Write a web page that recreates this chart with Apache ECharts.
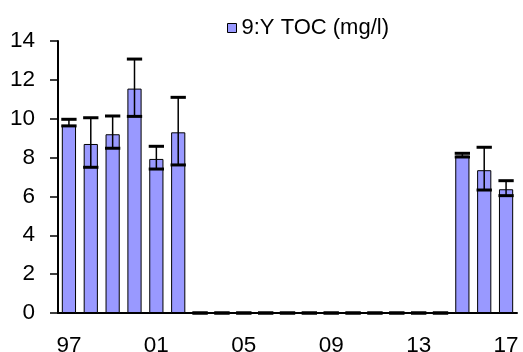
<!DOCTYPE html>
<html>
<head>
<meta charset="utf-8">
<script src="https://cdn.jsdelivr.net/npm/echarts@6/dist/echarts.min.js"></script>
<style>
  html, body { margin: 0; padding: 0; background: #fff; }
  #chart { width: 523px; height: 352px; }
</style>
</head>
<body>
<div id="chart"></div>
<script>
// Sampling years (two-digit labels)
const years = ['97','98','99','00','01','02','03','04','05','06','07','08','09','10','11','12','13','14','15','16','17'];
// Mean TOC per year (mg/l)
const tocMean = [9.68, 8.7, 9.2, 11.55, 7.93, 9.3, 0, 0, 0, 0, 0, 0, 0, 0, 0, 0, 0, 0, 8.1, 7.35, 6.37];
// Lowest and highest TOC per year (mg/l), drawn as whiskers
const tocMin = [9.63, 7.5, 8.48, 10.12, 7.41, 7.62, 0, 0, 0, 0, 0, 0, 0, 0, 0, 0, 0, 0, 8.03, 6.33, 6.04];
const tocMax = [9.97, 10.05, 10.14, 13.07, 8.58, 11.1, 0, 0, 0, 0, 0, 0, 0, 0, 0, 0, 0, 0, 8.22, 8.53, 6.81];
const yTicks = { min: 0, max: 14, interval: 2 };
const seriesName = '9:Y TOC (mg/l)';

const rangeData = years.map((y, i) => [i, tocMin[i], tocMax[i]]);
const font = 'Arial, "Liberation Sans", sans-serif';

const chart = echarts.init(document.getElementById('chart'), null, { renderer: 'canvas' });
chart.setOption({
  animation: false,
  textStyle: { fontFamily: font, color: '#000' },
  grid: { left: 58, right: 6, top: 41, bottom: 39, containLabel: false, outerBoundsMode: 'none' },
  legend: {
    data: [seriesName],
    left: 222, top: 12,
    icon: 'rect',
    itemWidth: 9, itemHeight: 9, itemGap: 4,
    textStyle: { fontSize: 22, color: '#000', fontFamily: font },
    itemStyle: { borderColor: '#000', borderWidth: 1 }
  },
  xAxis: {
    type: 'category',
    data: years,
    axisLine: { lineStyle: { color: '#000', width: 2 } },
    axisTick: { show: false },
    axisLabel: { interval: 3, fontSize: 22.5, color: '#000', margin: 21, fontFamily: font }
  },
  yAxis: {
    type: 'value',
    min: yTicks.min, max: yTicks.max, interval: yTicks.interval,
    axisLine: { show: true, lineStyle: { color: '#000', width: 2 } },
    axisTick: { show: true, length: 8, lineStyle: { color: '#000', width: 1.5 } },
    splitLine: { show: false },
    axisLabel: { fontSize: 22.5, color: '#000', margin: 23, fontFamily: font }
  },
  series: [
    {
      name: seriesName,
      type: 'bar',
      data: tocMean,
      barCategoryGap: '35%',
      itemStyle: { color: '#9999FF', borderColor: '#000', borderWidth: 1 }
    },
    {
      name: 'range',
      type: 'custom',
      data: rangeData,
      z: 10,
      renderItem: function (params, api) {
        const idx = api.value(0);
        const lo = api.coord([idx, api.value(1)]);
        const hi = api.coord([idx, api.value(2)]);
        const capW = api.size([1, 0])[0] * 0.7;
        const children = [
          { type: 'line', shape: { x1: hi[0], y1: hi[1], x2: lo[0], y2: lo[1] },
            style: { stroke: '#000', lineWidth: 1.5 } },
          { type: 'line', shape: { x1: hi[0] - capW / 2, y1: hi[1], x2: hi[0] + capW / 2, y2: hi[1] },
            style: { stroke: '#000', lineWidth: 3 } },
          { type: 'line', shape: { x1: lo[0] - capW / 2, y1: lo[1], x2: lo[0] + capW / 2, y2: lo[1] },
            style: { stroke: '#000', lineWidth: 3 } }
        ];
        return { type: 'group', children: children };
      }
    }
  ]
});
</script>
</body>
</html>
